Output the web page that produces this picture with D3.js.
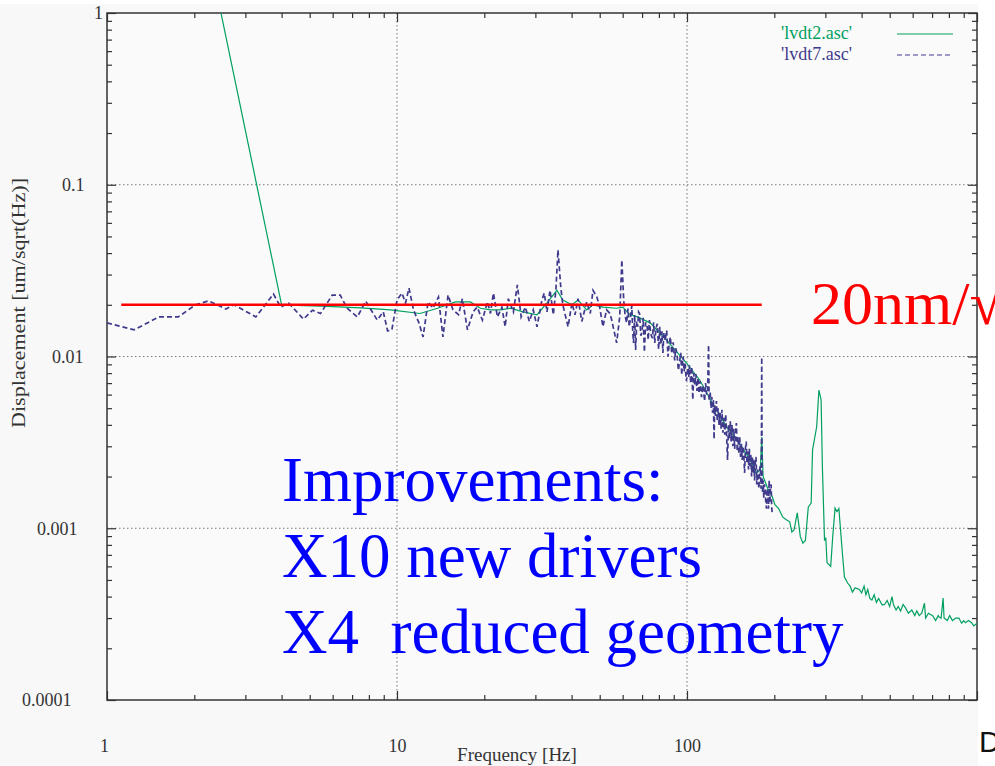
<!DOCTYPE html>
<html>
<head>
<meta charset="utf-8">
<script src="https://cdn.jsdelivr.net/npm/d3@7"></script>
<style>
  body { margin: 0; background: #fff; }
  svg { display: block; }
</style>
</head>
<body>
<svg width="995" height="766"></svg>
<script>
// legend names
const seriesNames = ["'lvdt2.asc'", "'lvdt7.asc'"];

// lvdt2 : [frequency Hz, displacement um/sqrt(Hz)]
const lvdt2 = [
  [2.0, 5.6], [4.0, 0.0200], [5.76, 0.0196], [7.5, 0.0192], [9.5, 0.0187],
  [12.0, 0.0178], [13.8, 0.0191], [15.9, 0.0208], [17.9, 0.0208], [19.4, 0.0191],
  [21.0, 0.0187], [22.7, 0.0187], [24.6, 0.0191], [27.2, 0.0182], [30.4, 0.0175],
  [32.9, 0.0205], [35.6, 0.0243], [37.3, 0.0213], [40.1, 0.0200], [42.1, 0.0213],
  [45.1, 0.0187], [47.4, 0.0200], [51.3, 0.0194], [57.2, 0.0191], [60.1, 0.0194],
  [63.5, 0.0175], [67.6, 0.0170], [74.6, 0.0157], [82.0, 0.0133], [89.4, 0.0113],
  [100, 0.0091], [110.6, 0.0073], [122, 0.0054], [137, 0.0039], [152, 0.0031],
  [165, 0.0025], [174, 0.0021], [179, 0.0022], [181, 0.0034], [183, 0.0020],
  [190, 0.0017], [197, 0.00152], [201, 0.00137], [207, 0.0013], [214, 0.00116],
  [220, 0.00112], [226, 0.00109], [230, 0.00095], [234, 0.00098], [240, 0.00123],
  [246, 0.00089], [251, 0.00082], [256, 0.00085], [262, 0.00133], [268, 0.0014],
  [271, 0.00286], [280, 0.0039], [285, 0.00638], [290, 0.0056], [293, 0.00227],
  [298, 0.00085], [301, 0.00088], [304, 0.00063], [313, 0.0006], [318, 0.00089],
  [324, 0.00131], [329, 0.00125], [334, 0.0013], [342, 0.00078], [349, 0.00052],
  [358, 0.00048], [365, 0.00046], [372, 0.000425], [380, 0.00045], [393, 0.00044],
  [400, 0.00042], [408, 0.00046], [414, 0.00041], [420, 0.00044], [427, 0.00039],
  [434, 0.000382], [442, 0.00041], [450, 0.00037], [458, 0.00039], [471, 0.000357],
  [480, 0.00036], [490, 0.00038], [500, 0.00035], [509, 0.0004], [515, 0.00036],
  [526, 0.000334], [535, 0.00035], [545, 0.00033], [556, 0.00036], [567, 0.000344],
  [580, 0.00032], [596, 0.000334], [610, 0.00031], [620, 0.00033], [632, 0.00031],
  [645, 0.00032], [659, 0.000366], [665, 0.0003], [680, 0.00032], [703, 0.00031],
  [720, 0.00029], [735, 0.00031], [740, 0.000304], [752, 0.0003], [764, 0.000392],
  [770, 0.0003], [790, 0.00029], [805, 0.00031], [823, 0.00029], [845, 0.0003],
  [866, 0.0003], [885, 0.00028], [900, 0.00029], [912, 0.000282], [935, 0.00029],
  [958, 0.000282], [975, 0.00027], [1000, 0.00028]
];

// lvdt7 : [frequency Hz, displacement um/sqrt(Hz)]
const lvdt7 = [
  [1.0, 0.0157], [1.24, 0.0143], [1.51, 0.0170], [1.76, 0.0170], [2.02, 0.0200],
  [2.24, 0.0211], [2.57, 0.0189], [2.74, 0.0200], [3.26, 0.0170], [3.75, 0.0231],
  [3.97, 0.0194], [4.23, 0.0205], [4.76, 0.0165], [5.11, 0.0186], [5.45, 0.0178],
  [5.98, 0.0228], [6.37, 0.0228], [6.73, 0.0191], [7.3, 0.0170], [7.8, 0.0210],
  [8.55, 0.0163], [8.97, 0.0182], [9.28, 0.0141], [9.6, 0.0143], [10.0, 0.0213],
  [10.4, 0.0234], [10.7, 0.0205], [11.0, 0.0250], [11.4, 0.0187], [11.9, 0.0157],
  [12.3, 0.0130], [12.8, 0.0208], [13.3, 0.0191], [13.9, 0.0222], [14.4, 0.0130],
  [15.0, 0.0228], [15.6, 0.0187], [16.3, 0.0175], [16.8, 0.0217], [17.5, 0.0143],
  [18.3, 0.0182], [18.9, 0.0194], [19.7, 0.0163], [20.5, 0.0208], [21.0, 0.0178],
  [21.5, 0.0234], [22.2, 0.0170], [23.0, 0.0194], [23.6, 0.0149], [24.2, 0.0217],
  [25.2, 0.0182], [26.0, 0.0261], [26.8, 0.0170], [27.7, 0.0194], [28.6, 0.0160],
  [29.5, 0.0187], [30.4, 0.0149], [31.6, 0.0213], [32.2, 0.0234], [32.9, 0.0182],
  [33.7, 0.0243], [34.6, 0.0175], [35.3, 0.0243], [35.9, 0.0417], [36.7, 0.0254],
  [37.3, 0.0200], [38.9, 0.0149], [40.1, 0.0205], [41.1, 0.0175], [42.1, 0.0217],
  [43.4, 0.0160], [45.1, 0.0208], [46.4, 0.0178], [47.4, 0.0243], [48.9, 0.0222],
  [50.0, 0.0194], [51.3, 0.0149], [52.8, 0.0187], [54.3, 0.0178], [55.0, 0.0163],
  [57.2, 0.0120], [58.6, 0.0170], [59.6, 0.0365], [60.5, 0.0213], [61.2, 0.0172],
  [61.9, 0.0157], [62.6, 0.0190], [63.2, 0.0149], [63.9, 0.0170], [64.5, 0.0198],
  [65.0, 0.0140], [65.4, 0.0120], [66.0, 0.0175], [66.5, 0.0109], [67.1, 0.0160],
  [67.6, 0.0149], [68.1, 0.0182], [68.6, 0.0178], [69.3, 0.0132], [70.0, 0.0140],
  [70.6, 0.0168], [71.3, 0.0106], [72.0, 0.0158], [72.8, 0.0152], [73.5, 0.0125],
  [74.2, 0.0163], [75.0, 0.0135], [76.0, 0.0128], [76.7, 0.0158], [77.4, 0.0120],
  [78.2, 0.0146], [79.0, 0.0155], [79.8, 0.0110], [80.6, 0.0149], [81.2, 0.0117],
  [82.0, 0.0140], [82.6, 0.0105], [83.2, 0.0138], [84.1, 0.0124], [85.1, 0.0142],
  [86.0, 0.0100], [86.8, 0.0118], [87.6, 0.0130], [88.6, 0.0104], [89.6, 0.0121],
  [90.7, 0.0095], [91.5, 0.0112], [92.4, 0.0102], [93.4, 0.0083], [94.5, 0.0096],
  [95.2, 0.0105], [95.9, 0.0078], [96.5, 0.0092], [97.0, 0.0100], [97.7, 0.0082],
  [98.4, 0.0091], [99.5, 0.0072], [100.8, 0.0086], [101.4, 0.0076], [102.0, 0.0089],
  [103.0, 0.0070], [103.9, 0.0087], [104.7, 0.0056], [105.5, 0.0080], [106.4, 0.0068],
  [107.3, 0.0079], [108.2, 0.0063], [109.1, 0.0075], [110.0, 0.0061], [111.0, 0.0072],
  [112.2, 0.0058], [113.5, 0.0068], [115.0, 0.0055], [115.9, 0.0070], [116.8, 0.0060],
  [117.8, 0.0064], [118.7, 0.0117], [119.2, 0.0055], [120.2, 0.0062], [121.0, 0.0050],
  [121.8, 0.0058], [122.5, 0.0047], [123.3, 0.0056], [124.0, 0.0033], [124.6, 0.0052],
  [125.4, 0.0045], [126.3, 0.0055], [127.2, 0.0042], [128.0, 0.0050], [129.0, 0.0040],
  [130.0, 0.0047], [131.0, 0.0038], [132.0, 0.0049], [133.0, 0.0036], [134.0, 0.0044],
  [135.0, 0.0035], [136.0, 0.0046], [137.0, 0.0034], [138.0, 0.0025], [139.0, 0.0040],
  [140.0, 0.0033], [141.0, 0.0042], [142.0, 0.0032], [143.0, 0.0040], [144.0, 0.0030],
  [145.0, 0.0038], [146.0, 0.0029], [147.0, 0.0036], [148.0, 0.0041], [149.0, 0.0028],
  [150.0, 0.0034], [151.0, 0.0027], [152.0, 0.0034], [153.0, 0.0026], [154.0, 0.0031],
  [155.0, 0.0025], [156.0, 0.0030], [157.0, 0.0027], [158.0, 0.0021], [159.0, 0.0029],
  [160.0, 0.0032], [161.0, 0.0024], [162.0, 0.0028], [163.0, 0.0022], [164.0, 0.0029],
  [165.0, 0.0023], [166.0, 0.0027], [167.0, 0.0020], [168.0, 0.0026], [169.0, 0.0021],
  [170.0, 0.0025], [171.0, 0.0019], [172.0, 0.0024], [173.0, 0.0026], [174.0, 0.0018],
  [175.0, 0.0022], [176.0, 0.0019], [177.0, 0.0017], [178.0, 0.0022], [179.0, 0.0023],
  [180.0, 0.0017], [180.5, 0.0020], [181.0, 0.0099], [181.5, 0.0020], [182.3, 0.0016],
  [183.0, 0.0019], [184.0, 0.0015], [185.0, 0.0018], [186.0, 0.0017], [187.0, 0.0014],
  [188.0, 0.0013], [189.0, 0.0017], [190.0, 0.0016], [191.0, 0.0013], [192.0, 0.0019],
  [193.0, 0.0014], [194.0, 0.0017], [195.0, 0.0018], [196.0, 0.0013], [197.0, 0.0012]
];

// red 20 nm/rtHz reference line
const refLine = [[1.12, 0.02], [181, 0.02]];

const xMajor = [1, 10, 100, 1000];
const xTickLabels = ["1", "10", "100", ""];
const yMajor = [0.0001, 0.001, 0.01, 0.1, 1];
const yTickLabels = ["0.0001", "0.001", "0.01", "0.1", "1"];
const noteLines = ["Improvements:", "X10 new drivers", "X4\u00a0 reduced geometry"];

const svg = d3.select("svg");
const serif = "'Liberation Serif', 'Times New Roman', serif";
const pLeft = 107, pRight = 977, pTop = 13, pBottom = 700;
// gnuplot puts its y labels a bit unevenly, left edge of each label
const yLabelLeft = [22, 37, 52, 62, 94];

const x = d3.scaleLog().domain([1, 1000]).range([pLeft, pRight]);
const y = d3.scaleLog().domain([0.0001, 1]).range([pBottom, pTop]);

// gnuplot canvas
svg.append("rect").attr("x", 0).attr("y", 4).attr("width", 978).attr("height", 762).attr("fill", "#f8f8f8");
svg.append("rect").attr("x", pLeft).attr("y", pTop).attr("width", pRight - pLeft).attr("height", pBottom - pTop).attr("fill", "#fafafa");

// grid
const grid = svg.append("g").attr("stroke", "#777").attr("stroke-width", 1).attr("stroke-dasharray", "1.5,2.5");
grid.selectAll("line.gx").data([10, 100]).enter().append("line")
  .attr("x1", d => x(d)).attr("x2", d => x(d)).attr("y1", pTop).attr("y2", pBottom);
grid.selectAll("line.gy").data([0.001, 0.01, 0.1]).enter().append("line")
  .attr("x1", pLeft).attr("x2", pRight).attr("y1", d => y(d)).attr("y2", d => y(d));

const xMinor = x.ticks().filter(d => xMajor.indexOf(d) < 0);
const yMinor = y.ticks().filter(d => !yMajor.some(m => Math.abs(m - d) / d < 1e-6));

const styleAxis = g => {
  g.select(".domain").remove();
  g.attr("font-family", serif).attr("font-size", 18);
  g.selectAll("line").attr("stroke", "#333").attr("stroke-width", 1.2);
  g.selectAll("text").attr("fill", "#333");
};

// inward ticks on all four sides
svg.append("g").attr("transform", `translate(0,${pBottom})`)
  .call(d3.axisBottom(x).tickValues(xMajor).tickSize(-9).tickPadding(39).tickFormat((d, i) => xTickLabels[i]))
  .call(styleAxis)
  .selectAll("text").attr("dx", (d, i) => i === 0 ? -3 : 0);
svg.append("g").attr("transform", `translate(0,${pBottom})`)
  .call(d3.axisBottom(x).tickValues(xMinor).tickSize(-5).tickFormat(""))
  .call(styleAxis);
svg.append("g").attr("transform", `translate(0,${pTop})`)
  .call(d3.axisTop(x).tickValues(xMajor).tickSize(-9).tickFormat(""))
  .call(styleAxis);
svg.append("g").attr("transform", `translate(0,${pTop})`)
  .call(d3.axisTop(x).tickValues(xMinor).tickSize(-5).tickFormat(""))
  .call(styleAxis);
svg.append("g").attr("transform", `translate(${pLeft},0)`)
  .call(d3.axisLeft(y).tickValues(yMajor).tickSize(-9).tickFormat((d, i) => yTickLabels[i]))
  .call(styleAxis)
  .selectAll("text").attr("text-anchor", "start").attr("x", (d, i) => yLabelLeft[i] - pLeft);
svg.append("g").attr("transform", `translate(${pLeft},0)`)
  .call(d3.axisLeft(y).tickValues(yMinor).tickSize(-5).tickFormat(""))
  .call(styleAxis);
svg.append("g").attr("transform", `translate(${pRight},0)`)
  .call(d3.axisRight(y).tickValues(yMajor).tickSize(-9).tickFormat(""))
  .call(styleAxis);
svg.append("g").attr("transform", `translate(${pRight},0)`)
  .call(d3.axisRight(y).tickValues(yMinor).tickSize(-5).tickFormat(""))
  .call(styleAxis);

// border
svg.append("rect").attr("x", pLeft).attr("y", pTop).attr("width", pRight - pLeft).attr("height", pBottom - pTop)
  .attr("fill", "none").attr("stroke", "#333").attr("stroke-width", 1.5);

// axis titles
svg.append("text").attr("x", 517).attr("y", 761).attr("text-anchor", "middle")
  .attr("font-family", serif).attr("font-size", 19).attr("fill", "#333").text("Frequency [Hz]");
svg.append("text").attr("transform", "translate(25,303) rotate(-90)").attr("text-anchor", "middle")
  .attr("font-family", serif).attr("font-size", 19).attr("fill", "#333")
  .attr("textLength", 250).attr("lengthAdjust", "spacingAndGlyphs").text("Displacement [um/sqrt(Hz)]");

// data
svg.append("clipPath").attr("id", "plotClip").append("rect")
  .attr("x", pLeft).attr("y", pTop).attr("width", pRight - pLeft).attr("height", pBottom - pTop);
const line = d3.line().x(d => x(d[0])).y(d => y(d[1]));
const plot = svg.append("g").attr("clip-path", "url(#plotClip)");
plot.append("path").datum(lvdt2).attr("d", line).attr("fill", "none")
  .attr("stroke", "#00a060").attr("stroke-width", 1.2);
plot.append("path").datum(lvdt7).attr("d", line).attr("fill", "none")
  .attr("stroke", "#3f3a8c").attr("stroke-width", 1.7).attr("stroke-dasharray", "5,3");

// legend
const legendColors = ["#00a060", "#3f3a8c"];
const legendDash = [null, "5,3"];
seriesNames.forEach((name, i) => {
  svg.append("text").attr("x", 852).attr("y", 39 + i * 21).attr("text-anchor", "end")
    .attr("font-family", serif).attr("font-size", 18).attr("fill", legendColors[i]).text(name);
  svg.append("line").attr("x1", 897).attr("x2", 953).attr("y1", 34 + i * 21).attr("y2", 34 + i * 21)
    .attr("stroke", legendColors[i]).attr("stroke-width", 1.2).attr("stroke-dasharray", legendDash[i]);
});

// overlays
svg.append("path").datum(refLine).attr("d", line).attr("fill", "none")
  .attr("stroke", "#ff0000").attr("stroke-width", 2.5);
svg.append("text").attr("x", 811).attr("y", 324).attr("font-family", serif).attr("font-size", 62)
  .attr("fill", "#ff0000").text("20nm/\u221aHz");
svg.selectAll("text.note").data(noteLines).enter().append("text").attr("class", "note")
  .attr("x", 282).attr("y", (d, i) => 501 + i * 76)
  .attr("font-family", serif).attr("font-size", 63).attr("fill", "#0000ff").text(d => d);
svg.append("text").attr("x", 979).attr("y", 752).attr("font-family", "'Liberation Sans', sans-serif")
  .attr("font-size", 30).attr("fill", "#111").text("D");
</script>
</body>
</html>
